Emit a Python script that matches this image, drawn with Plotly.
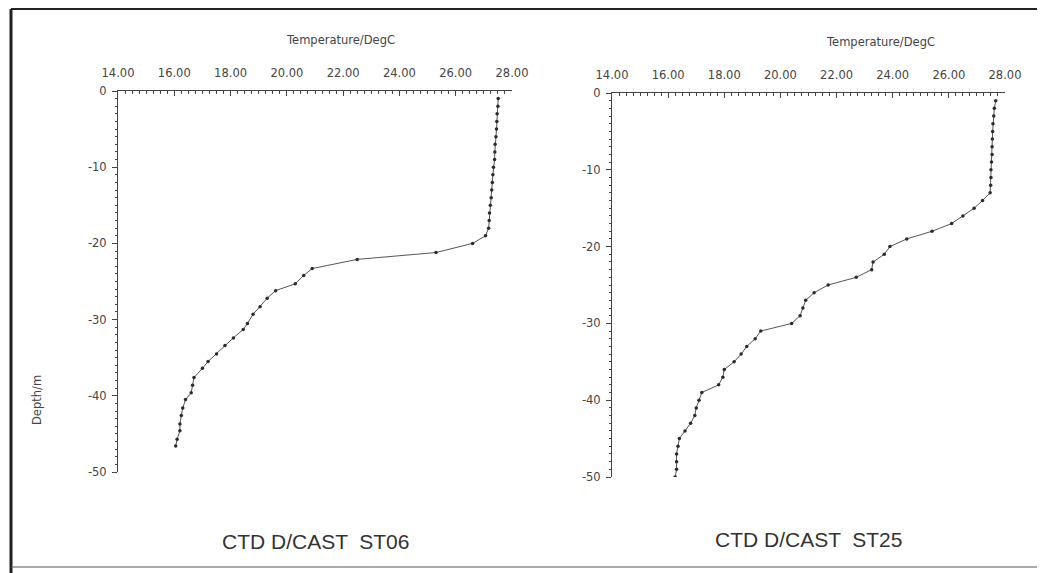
import plotly.graph_objects as go

# ST06 profile (temperature degC, depth m)
st06_depth = [1, 2, 3, 4, 5, 6, 7, 8, 9, 10, 11, 12, 13, 14, 15, 16, 17, 18, 19, 20,
              21.2, 22.1, 23.3, 24.2, 25.3, 26.2, 27.2, 28.3, 29.3, 30.5, 31.3, 32.4,
              33.4, 34.5, 35.5, 36.4, 37.6, 38.6, 39.6, 40.5, 41.6, 42.6, 43.7, 44.6,
              45.7, 46.6]
st06_temp = [27.51, 27.50, 27.47, 27.46, 27.45, 27.43, 27.40, 27.39, 27.38, 27.34,
             27.32, 27.30, 27.28, 27.26, 27.23, 27.20, 27.19, 27.17, 27.06, 26.60,
             25.30, 22.50, 20.90, 20.60, 20.30, 19.60, 19.30, 19.05, 18.80, 18.60,
             18.45, 18.10, 17.80, 17.50, 17.20, 17.00, 16.70, 16.65, 16.60, 16.40,
             16.30, 16.25, 16.20, 16.20, 16.10, 16.05]

# ST25 profile
st25_depth = [1, 2, 3, 4, 5, 6, 7, 8, 9, 10, 11, 12, 13, 14, 15, 16, 17, 18, 19, 20,
              21, 22, 23, 24, 25, 26, 27, 28, 29, 30, 31, 32, 33, 34, 35, 36, 37, 38,
              39, 40, 41, 42, 43, 44, 45, 46, 47, 48, 49, 50, 51, 52]
st25_temp = [27.67, 27.62, 27.60, 27.57, 27.56, 27.55, 27.54, 27.54, 27.52, 27.50,
             27.50, 27.49, 27.47, 27.20, 26.90, 26.50, 26.10, 25.40, 24.50, 23.90,
             23.70, 23.30, 23.25, 22.70, 21.70, 21.20, 20.90, 20.80, 20.70, 20.40,
             19.30, 19.10, 18.80, 18.60, 18.35, 18.00, 17.95, 17.80, 17.20, 17.10,
             17.00, 16.95, 16.80, 16.60, 16.40, 16.35, 16.30, 16.30, 16.30, 16.25,
             16.20, 16.20]

x_ticks = [14, 16, 18, 20, 22, 24, 26, 28]
x_ticktext = ["14.00", "16.00", "18.00", "20.00", "22.00", "24.00", "26.00", "28.00"]
y_ticks = [0, -10, -20, -30, -40, -50]
y_ticktext = ["0", "-10", "-20", "-30", "-40", "-50"]

titles = ["CTD D/CAST  ST06", "CTD D/CAST  ST25"]

W, H = 1045, 573
OFF = 8  # page body margin
def px(x):
    return (x - OFF) / W
def py(y):
    return 1 - (y - OFF) / H

fig = go.Figure()
line_col = "#444444"
fig.add_trace(go.Scatter(x=st06_temp, y=[-d for d in st06_depth], mode="lines+markers",
                         line=dict(color="#555555", width=1),
                         marker=dict(color="#2a2a2a", size=3.5),
                         xaxis="x", yaxis="y", showlegend=False))
fig.add_trace(go.Scatter(x=st25_temp, y=[-d for d in st25_depth], mode="lines+markers",
                         line=dict(color="#555555", width=1),
                         marker=dict(color="#2a2a2a", size=3.5),
                         xaxis="x2", yaxis="y2", showlegend=False))

tickfont = dict(family="DejaVu Sans", size=11.5, color="#444444")

def xaxis(domain, anchor):
    return dict(domain=domain, anchor=anchor, side="top", range=[14, 28],
                tickvals=x_ticks, ticktext=x_ticktext, tickfont=tickfont,
                showline=True, linecolor=line_col, linewidth=1, mirror=False,
                ticks="inside", ticklen=5, tickcolor=line_col, ticklabelstandoff=8,
                minor=dict(dtick=0.25, ticks="inside", ticklen=3, tickcolor=line_col),
                showgrid=False, zeroline=False, fixedrange=True, automargin=False)

def yaxis(domain, anchor):
    return dict(domain=domain, anchor=anchor, range=[-50, 0],
                tickvals=y_ticks, ticktext=y_ticktext, tickfont=tickfont,
                showline=True, linecolor=line_col, linewidth=1,
                ticks="outside", ticklen=5, tickcolor=line_col, ticklabelstandoff=3,
                minor=dict(dtick=1, tick0=0, ticks="outside", ticklen=2, tickcolor=line_col),
                showgrid=False, zeroline=False, fixedrange=True, automargin=False)

fig.update_layout(
    width=W, height=H,
    margin=dict(l=0, r=0, t=0, b=0, autoexpand=False),
    paper_bgcolor="white", plot_bgcolor="white",
    xaxis=xaxis([px(118), px(512)], "y"),
    yaxis=yaxis([py(472), py(91)], "x"),
    xaxis2=xaxis([px(612), px(1005)], "y2"),
    yaxis2=yaxis([py(477), py(93)], "x2"),
)

ann_font = dict(family="DejaVu Sans", size=11.5, color="#444444")
def note(text, x, y, font, angle=0):
    fig.add_annotation(text=text, x=px(x), y=py(y), xref="paper", yref="paper",
                       xanchor="center", yanchor="middle", showarrow=False,
                       textangle=angle, font=font)

note("Temperature/DegC", 340, 40, ann_font)
note("Temperature/DegC", 880, 42, ann_font)
note("Depth/m", 37, 400, ann_font, angle=-90)

title_font = dict(family="Liberation Sans Narrow, Liberation Sans, Arial", size=21, color="#333333")
note(titles[0], 315, 541, title_font)
note(titles[1], 808, 539, title_font)

# scanned frame
fig.add_shape(type="line", xref="paper", yref="paper", x0=px(11), x1=px(11), y0=py(9), y1=py(580),
              line=dict(color="#222222", width=3))
fig.add_shape(type="line", xref="paper", yref="paper", x0=px(11), x1=1, y0=py(9), y1=py(9),
              line=dict(color="#222222", width=2))
fig.add_shape(type="line", xref="paper", yref="paper", x0=px(11), x1=1, y0=py(567), y1=py(567),
              line=dict(color="#555555", width=1))

fig.write_html("out.html")
